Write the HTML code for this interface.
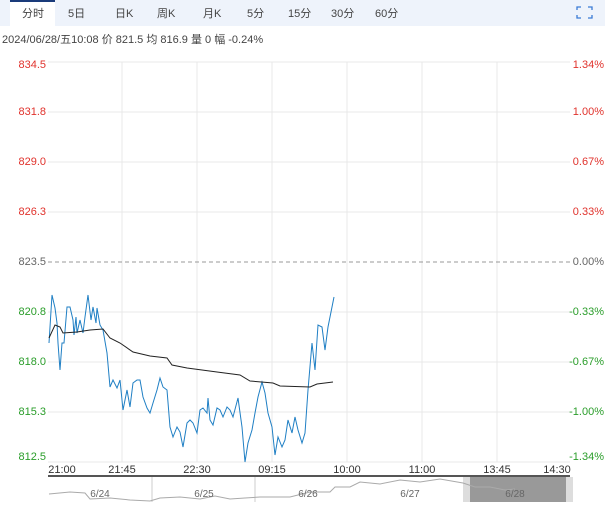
<!DOCTYPE html>
<html><head><meta charset="utf-8"><style>
body{margin:0;width:605px;height:506px;background:#fff;overflow:hidden;font-family:"Liberation Sans","Noto Sans CJK SC",sans-serif}
</style></head><body>
<svg width="605" height="506" xmlns="http://www.w3.org/2000/svg" font-family="Liberation Sans, Noto Sans CJK SC, sans-serif">
<rect x="0" y="0" width="605" height="26" fill="#eef3fb"/>
<rect x="10" y="0" width="45" height="26" fill="#fff"/>
<rect x="10" y="0" width="45" height="2" fill="#1a3b7a"/>
<g font-size="11" fill="#444">
<text x="22" y="17">分时</text><text x="68" y="17">5日</text><text x="115" y="17">日K</text><text x="157" y="17">周K</text><text x="203" y="17">月K</text><text x="247" y="17">5分</text><text x="288" y="17">15分</text><text x="331" y="17">30分</text><text x="375" y="17">60分</text>
</g>
<g stroke="#3a7bd5" stroke-width="1.3" fill="none"><path d="M577 10v-3h4M588 7h4v3M577 15v3h4M588 18h4v-3"/></g>
<text x="2" y="43" font-size="11" fill="#444">2024/06/28/五10:08  价 821.5  均 816.9  量 0  幅 -0.24%</text>
<g stroke="#e8e8e8" stroke-width="1">
<line x1="48" y1="62" x2="570" y2="62"/><line x1="48" y1="112" x2="570" y2="112"/><line x1="48" y1="162" x2="570" y2="162"/><line x1="48" y1="212" x2="570" y2="212"/><line x1="48" y1="312" x2="570" y2="312"/><line x1="48" y1="362" x2="570" y2="362"/><line x1="48" y1="412" x2="570" y2="412"/><line x1="48" y1="462" x2="570" y2="462"/>
<line x1="122" y1="62" x2="122" y2="462"/><line x1="197" y1="62" x2="197" y2="462"/><line x1="272" y1="62" x2="272" y2="462"/><line x1="347" y1="62" x2="347" y2="462"/><line x1="422" y1="62" x2="422" y2="462"/><line x1="497" y1="62" x2="497" y2="462"/>
</g>
<line x1="48" y1="262" x2="570" y2="262" stroke="#999" stroke-dasharray="4,3"/>
<g font-size="11" text-anchor="end">
<text x="46" y="68" fill="#e0322c">834.5</text><text x="46" y="115" fill="#e0322c">831.8</text><text x="46" y="165" fill="#e0322c">829.0</text><text x="46" y="215" fill="#e0322c">826.3</text><text x="46" y="265" fill="#666">823.5</text><text x="46" y="315" fill="#2a9d2a">820.8</text><text x="46" y="365" fill="#2a9d2a">818.0</text><text x="46" y="415" fill="#2a9d2a">815.3</text><text x="46" y="460" fill="#2a9d2a">812.5</text>
<text x="604" y="68" fill="#e0322c">1.34%</text><text x="604" y="115" fill="#e0322c">1.00%</text><text x="604" y="165" fill="#e0322c">0.67%</text><text x="604" y="215" fill="#e0322c">0.33%</text><text x="604" y="265" fill="#666">0.00%</text><text x="604" y="315" fill="#2a9d2a">-0.33%</text><text x="604" y="365" fill="#2a9d2a">-0.67%</text><text x="604" y="415" fill="#2a9d2a">-1.00%</text><text x="604" y="460" fill="#2a9d2a">-1.34%</text>
</g>
<polyline fill="none" stroke="#1f7fc4" stroke-width="1" points="49,343 52,295 55,308 57,323 58,343 60,370 62,343 64,343 67,307 70,307 73,320 74,335 76,317 77,333 80,320 83,333 85,317 88,295 91,320 93,307 96,323 97,308 100,325 103,330 107,353 110,387 113,380 117,388 120,380 123,410 127,390 130,407 133,383 137,380 140,380 143,397 147,408 150,413 153,403 157,390 160,378 163,387 167,390 170,427 173,437 177,427 180,432 183,447 187,423 190,420 193,423 197,433 200,410 203,408 207,413 208,398 210,420 213,425 217,408 220,410 223,417 227,407 230,410 233,417 238,398 242,427 245,462 248,443 252,430 255,413 258,397 262,382 265,393 268,413 272,427 275,455 278,437 282,447 285,440 288,420 292,433 295,417 298,430 302,443 305,433 308,390 312,343 315,370 318,325 322,327 325,350 328,327 332,307 334,297"/>
<polyline fill="none" stroke="#222" stroke-width="1" points="49,338 55,325 60,327 63,333 77,332 90,330 103,329 110,338 120,343 133,352 150,356 167,358 172,365 187,368 217,372 240,375 250,381 273,383 280,386 310,387 317,384 333,382"/>
<g font-size="11" fill="#333" text-anchor="middle">
<text x="62" y="473">21:00</text><text x="122" y="473">21:45</text><text x="197" y="473">22:30</text><text x="272" y="473">09:15</text><text x="347" y="473">10:00</text><text x="422" y="473">11:00</text><text x="497" y="473">13:45</text><text x="557" y="473">14:30</text>
</g>
<rect x="48" y="475" width="522" height="2" fill="#555"/>
<rect x="463" y="477" width="110" height="25" fill="#999"/>
<rect x="463" y="477" width="7" height="25" fill="#ddd"/><rect x="566" y="477" width="7" height="25" fill="#ddd"/>
<g stroke="#ccc"><line x1="152" y1="477" x2="152" y2="502"/><line x1="255" y1="477" x2="255" y2="502"/></g>
<polyline fill="none" stroke="#aaa" stroke-width="1" points="49,494 70,492 85,493 90,499 110,498 130,500 150,501 160,498 180,497 200,499 215,496 230,499 245,498 260,497 290,497 310,492 330,492 335,487 350,487 360,482 380,484 400,480 420,482 440,479 463,483 475,487 490,487 505,490 515,489"/>
<g font-size="10" fill="#666" text-anchor="middle"><text x="100" y="497">6/24</text><text x="204" y="497">6/25</text><text x="308" y="497">6/26</text><text x="410" y="497">6/27</text><text x="515" y="497">6/28</text></g>
</svg>
</body></html>
